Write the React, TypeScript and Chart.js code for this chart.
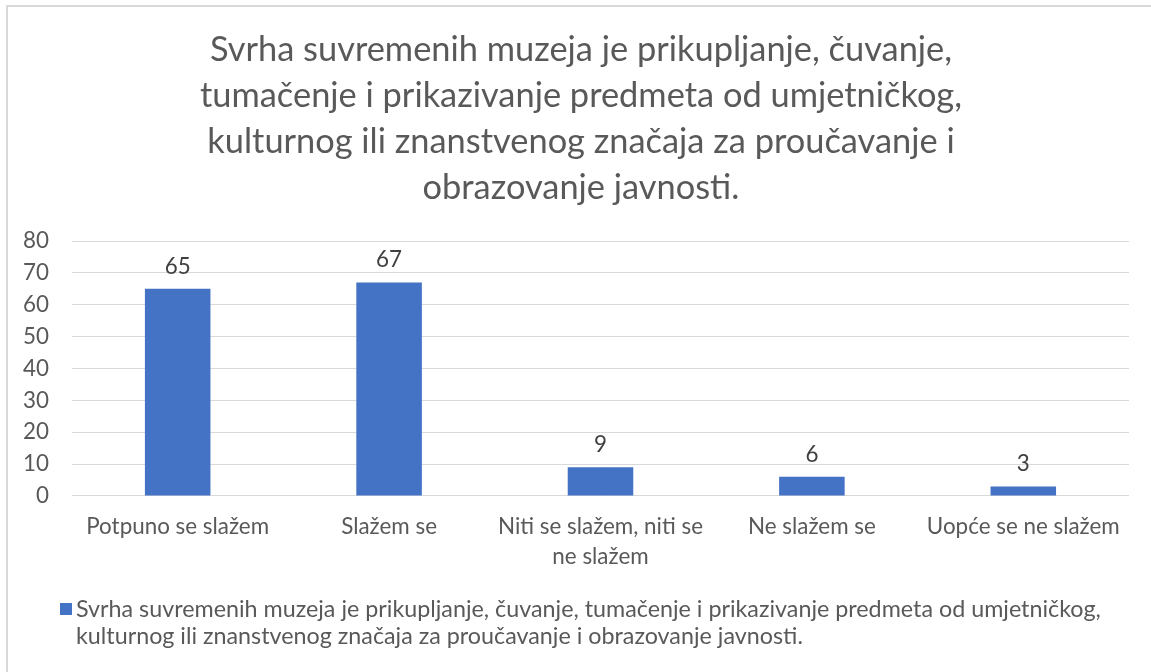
import React, { useEffect, useRef } from "react";
import { Chart, registerables } from "chart.js";

Chart.register(...registerables);

const categories: (string | string[])[] = [
  "Potpuno se slažem",
  "Slažem se",
  ["Niti se slažem, niti se", "ne slažem"],
  "Ne slažem se",
  "Uopće se ne slažem",
];
const values: number[] = [65, 67, 9, 6, 3];
const yMin = 0;
const yMax = 80;
const yStep = 10;
const titleLines: string[] = [
  "Svrha suvremenih muzeja je prikupljanje, čuvanje,",
  "tumačenje i prikazivanje predmeta od umjetničkog,",
  "kulturnog ili znanstvenog značaja za proučavanje i",
  "obrazovanje javnosti.",
];
const seriesName =
  "Svrha suvremenih muzeja je prikupljanje, čuvanje, tumačenje i prikazivanje predmeta od umjetničkog, kulturnog ili znanstvenog značaja za proučavanje i obrazovanje javnosti.";
const legendLines: string[] = [
  "Svrha suvremenih muzeja je prikupljanje, čuvanje, tumačenje i prikazivanje predmeta od umjetničkog,",
  "kulturnog ili znanstvenog značaja za proučavanje i obrazovanje javnosti.",
];

const FONT = "Lato, 'Open Sans', sans-serif";
const TEXT = "#595959";
const BAR = "#4472C4";
const TICK_SIZE = 22.4;
const LEGEND_SIZE = 23.3;
const TITLE_SIZE = 34.4;

const wrappedTitle = {
  id: "wrappedTitle",
  afterDraw(chart: any) {
    const ctx = chart.ctx;
    ctx.save();
    ctx.font = `${TITLE_SIZE}px ${FONT}`;
    ctx.fillStyle = TEXT;
    ctx.textAlign = "center";
    ctx.textBaseline = "middle";
    titleLines.forEach((line, i) => {
      ctx.fillText(line, 581, 50 + i * 46);
    });
    ctx.restore();
  },
};

const dataLabels = {
  id: "dataLabels",
  afterDatasetsDraw(chart: any) {
    const ctx = chart.ctx;
    ctx.save();
    ctx.font = `${TICK_SIZE}px ${FONT}`;
    ctx.fillStyle = "#404040";
    ctx.textAlign = "center";
    ctx.textBaseline = "alphabetic";
    const meta = chart.getDatasetMeta(0);
    meta.data.forEach((el: any, i: number) => {
      ctx.fillText(String(chart.data.datasets[0].data[i]), el.x, el.y - 15);
    });
    ctx.restore();
  },
};

const wrappedLegend = {
  id: "wrappedLegend",
  afterDraw(chart: any) {
    const ctx = chart.ctx;
    ctx.save();
    ctx.fillStyle = BAR;
    ctx.fillRect(60, 603, 12, 12);
    ctx.font = `${LEGEND_SIZE}px ${FONT}`;
    ctx.fillStyle = TEXT;
    ctx.textAlign = "left";
    ctx.textBaseline = "middle";
    legendLines.forEach((line, i) => {
      ctx.fillText(line, 76, 609 + i * 27);
    });
    ctx.restore();
  },
};

export default function App() {
  const ref = useRef<HTMLCanvasElement | null>(null);
  useEffect(() => {
    if (!ref.current) return;
    const chart = new Chart(ref.current, {
      type: "bar",
      data: {
        labels: categories,
        datasets: [
          {
            label: seriesName,
            data: values,
            backgroundColor: BAR,
            barPercentage: 0.31,
            categoryPercentage: 1,
          },
        ],
      },
      options: {
        animation: false,
        responsive: false,
        layout: { padding: { left: 0, right: 22, top: 241, bottom: 84 } },
        plugins: {
          legend: { display: false },
          tooltip: { enabled: false },
          title: { display: false },
        },
        scales: {
          x: {
            afterFit: (scale: any) => {
              scale.paddingLeft = 0;
              scale.paddingRight = 0;
            },
            grid: { display: false, drawTicks: false },
            border: { display: false },
            ticks: {
              color: TEXT,
              font: { family: FONT, size: TICK_SIZE, lineHeight: 1.34 },
              padding: 16,
              maxRotation: 0,
              autoSkip: false,
            },
          },
          y: {
            min: yMin,
            max: yMax,
            grid: { color: "#d9d9d9", lineWidth: 1, drawTicks: false },
            border: { display: false },
            ticks: {
              stepSize: yStep,
              autoSkip: false,
              color: TEXT,
              font: { family: FONT, size: TICK_SIZE },
              padding: 23,
            },
          },
        },
      },
      plugins: [dataLabels, wrappedTitle, wrappedLegend],
    });
    return () => chart.destroy();
  }, []);

  return (
    <div
      style={{
        position: "fixed",
        left: 0,
        top: 0,
        width: 1151,
        height: 672,
        overflow: "hidden",
        background: "#fff",
      }}
    >
      <div
        style={{
          position: "absolute",
          left: 6,
          top: 5,
          width: 1200,
          height: 700,
          border: "2px solid #d9d9d9",
        }}
      />
      <canvas
        ref={ref}
        width={1151}
        height={672}
        style={{ position: "absolute", left: 0, top: 0 }}
      />
    </div>
  );
}
